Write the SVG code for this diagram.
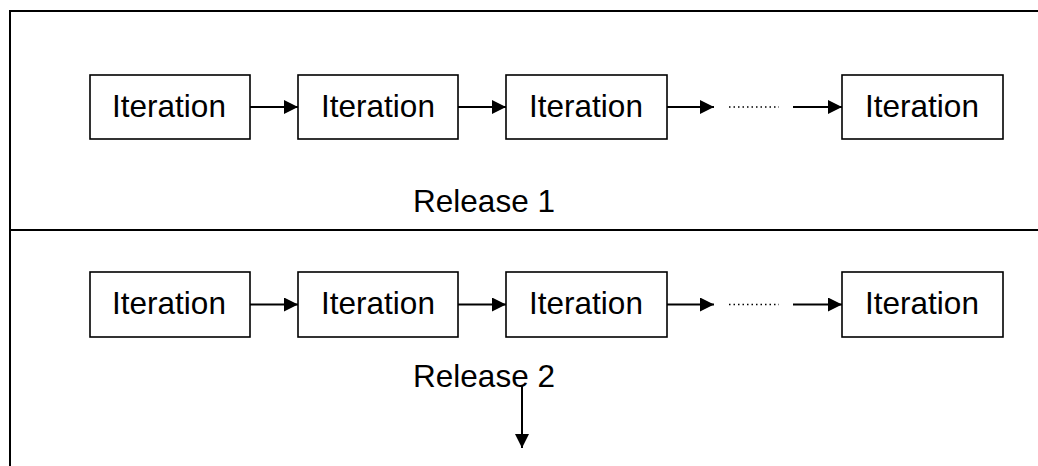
<svg xmlns="http://www.w3.org/2000/svg" width="1038" height="466" viewBox="0 0 1038 466">
<style>
.box{fill:#fff;stroke:#000;stroke-width:1.6}
.t{font-family:"Liberation Sans",Arial,sans-serif;font-size:31.5px;fill:#000}
.c{stroke:#000;stroke-width:2;fill:none}
.frame{stroke:#000;stroke-width:2;fill:none}
</style>
<defs>
<marker id="ah" markerWidth="14" markerHeight="14" viewBox="0 0 14 14" refX="14" refY="7" orient="auto" markerUnits="userSpaceOnUse">
<path d="M0,0 L14,7 L0,14 Z" fill="#000"/>
</marker>
</defs>
<rect width="1038" height="466" fill="#fff"/>
<g id="frame">
<path class="frame" d="M1038,11 H10 V466"/>
<path class="frame" d="M10,230 H1038"/>
</g>
<g id="r1n1"><rect class="box" x="90" y="75" width="160" height="64"/><text class="t" x="169" y="117" text-anchor="middle">Iteration</text></g>
<g id="r1n2"><rect class="box" x="298" y="75" width="160" height="64"/><text class="t" x="378" y="117" text-anchor="middle">Iteration</text></g>
<g id="r1n3"><rect class="box" x="506" y="75" width="161" height="64"/><text class="t" x="586" y="117" text-anchor="middle">Iteration</text></g>
<g id="r1n5"><rect class="box" x="842" y="75" width="161" height="64"/><text class="t" x="922" y="117" text-anchor="middle">Iteration</text></g>
<g id="r1label"><text class="t" x="484" y="212" text-anchor="middle">Release 1</text></g>
<g id="r2n1"><rect class="box" x="90" y="272" width="160" height="65"/><text class="t" x="169" y="314" text-anchor="middle">Iteration</text></g>
<g id="r2n2"><rect class="box" x="298" y="272" width="160" height="65"/><text class="t" x="378" y="314" text-anchor="middle">Iteration</text></g>
<g id="r2n3"><rect class="box" x="506" y="272" width="161" height="65"/><text class="t" x="586" y="314" text-anchor="middle">Iteration</text></g>
<g id="r2n5"><rect class="box" x="842" y="272" width="161" height="65"/><text class="t" x="922" y="314" text-anchor="middle">Iteration</text></g>
<g id="r2label"><text class="t" x="484" y="387" text-anchor="middle">Release 2</text></g>
<g id="connectors">
<line class="c" x1="250" y1="107" x2="298" y2="107" marker-end="url(#ah)"/>
<line class="c" x1="458" y1="107" x2="506" y2="107" marker-end="url(#ah)"/>
<line class="c" x1="667" y1="107" x2="714" y2="107" marker-end="url(#ah)"/>
<line x1="729" y1="107" x2="779" y2="107" stroke="#000" stroke-width="1.5" stroke-dasharray="1.5,3"/>
<line class="c" x1="793" y1="107" x2="842" y2="107" marker-end="url(#ah)"/>
<line class="c" x1="250" y1="304.5" x2="298" y2="304.5" marker-end="url(#ah)"/>
<line class="c" x1="458" y1="304.5" x2="506" y2="304.5" marker-end="url(#ah)"/>
<line class="c" x1="667" y1="304.5" x2="714" y2="304.5" marker-end="url(#ah)"/>
<line x1="729" y1="304.5" x2="779" y2="304.5" stroke="#000" stroke-width="1.5" stroke-dasharray="1.5,3"/>
<line class="c" x1="793" y1="304.5" x2="842" y2="304.5" marker-end="url(#ah)"/>
<line class="c" x1="522" y1="385" x2="522" y2="448" marker-end="url(#ah)"/>
</g>
</svg>
